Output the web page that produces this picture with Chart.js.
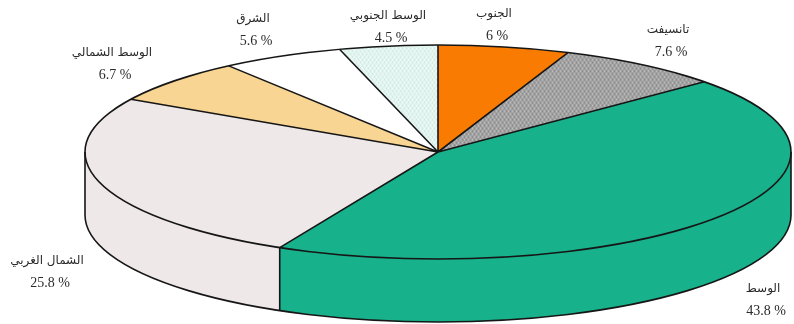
<!DOCTYPE html>
<html lang="ar">

<head>
    <meta charset="UTF-8">
    <title>توزيع حسب الجهات</title>
    <script src="https://cdn.jsdelivr.net/npm/chart.js@4.4.0/dist/chart.umd.min.js"></script>
    <style>
        body {
            margin: 0;
            background: #fff;
        }

        .graph-container {
            position: relative;
            width: 794px;
            height: 324px;
        }
    </style>
</head>

<body>
    <div class="graph-container">
        <canvas id="myChart"></canvas>
    </div>

    <script>
        // clockwise from 12 o'clock
        var regions = ['الجنوب', 'تانسيفت', 'الوسط', 'الشمال الغربي', 'الوسط الشمالي', 'الشرق', 'الوسط الجنوبي'];
        var shares = [6, 7.6, 43.8, 25.8, 6.7, 5.6, 4.5];

        // label anchors (centre of the name line) for each region
        var labelAnchors = [
            [494, 14], [668, 30], [763, 289], [47, 261], [112, 53], [253, 19], [388, 16]
        ];

        var RADIUS = 353;      // horizontal radius of the disc
        var TILT = 0.303;      // vertical squash of the disc
        var TOP_Y = 152;       // centre of the top face
        var DEPTH = 63;        // thickness of the disc

        var ctx = document.getElementById('myChart').getContext('2d');

        function dotted(base, light, dark) {
            var c = document.createElement('canvas');
            c.width = 4;
            c.height = 4;
            var p = c.getContext('2d');
            p.fillStyle = base;
            p.fillRect(0, 0, 4, 4);
            p.fillStyle = light;
            p.fillRect(0, 0, 1, 1);
            p.fillRect(2, 2, 1, 1);
            p.fillStyle = dark;
            p.fillRect(2, 0, 1, 1);
            p.fillRect(0, 2, 1, 1);
            return ctx.createPattern(c, 'repeat');
        }

        var sliceColors = [
            '#f97b02',
            dotted('#a2a2a2', '#c2c2c2', '#888888'),
            '#17b18b',
            '#efe8e8',
            '#f9d593',
            '#ffffff',
            dotted('#e2f4ef', '#f3fbf8', '#cde8df')
        ];

        function pt(cx, cy, a) {
            return [cx + RADIUS * Math.cos(a), cy + RADIUS * TILT * Math.sin(a)];
        }

        // front wall of the disc, only the part facing the viewer (0..PI)
        function drawSides(c, meta) {
            var cx = meta.data[0].x;
            meta.data.forEach(function (el) {
                var a1 = Math.max(el.startAngle, 0);
                var a2 = Math.min(el.endAngle, Math.PI);
                if (a2 <= a1) return;
                var rY = RADIUS * TILT;
                var b = pt(cx, TOP_Y + DEPTH, a2);
                c.beginPath();
                c.ellipse(cx, TOP_Y, RADIUS, rY, 0, a1, a2);
                c.lineTo(b[0], b[1]);
                c.ellipse(cx, TOP_Y + DEPTH, RADIUS, rY, 0, a2, a1, true);
                c.closePath();
                c.fillStyle = el.options.backgroundColor;
                c.fill();
            });
        }

        function drawOutlines(c, meta) {
            var cx = meta.data[0].x;
            var rY = RADIUS * TILT;
            c.save();
            c.strokeStyle = '#161616';
            c.lineWidth = 1.6;
            c.lineJoin = 'round';

            c.beginPath();
            c.ellipse(cx, TOP_Y, RADIUS, rY, 0, 0, Math.PI * 2);
            c.stroke();

            c.beginPath();
            c.ellipse(cx, TOP_Y + DEPTH, RADIUS, rY, 0, 0, Math.PI);
            c.stroke();

            c.beginPath();
            meta.data.forEach(function (el) {
                var p = pt(cx, TOP_Y, el.startAngle);
                c.moveTo(cx, TOP_Y);
                c.lineTo(p[0], p[1]);
                var a = el.startAngle;
                if (a > 0 && a < Math.PI) {
                    c.moveTo(p[0], p[1]);
                    c.lineTo(p[0], p[1] + DEPTH);
                }
            });
            // left and right silhouette
            c.moveTo(cx + RADIUS, TOP_Y);
            c.lineTo(cx + RADIUS, TOP_Y + DEPTH);
            c.moveTo(cx - RADIUS, TOP_Y);
            c.lineTo(cx - RADIUS, TOP_Y + DEPTH);
            c.stroke();
            c.restore();
        }

        function drawLabels(c) {
            c.save();
            c.fillStyle = '#2b2b2b';
            c.textAlign = 'center';
            c.textBaseline = 'middle';
            regions.forEach(function (name, i) {
                var x = labelAnchors[i][0];
                var y = labelAnchors[i][1];
                c.direction = 'rtl';
                c.font = '12px "DejaVu Sans"';
                c.fillText(name, x, y);
                c.direction = 'ltr';
                c.font = '14px "Liberation Serif"';
                c.fillText(String(shares[i]) + ' %', x + 3, y + 22);
            });
            c.restore();
        }

        var pie3d = {
            id: 'pie3d',
            beforeDatasetsDraw: function (chart) {
                var c = chart.ctx;
                var meta = chart.getDatasetMeta(0);
                drawSides(c, meta);
                // squash the library's pie into the tilted top face
                var cy = meta.data[0].y;
                c.save();
                c.translate(0, TOP_Y);
                c.scale(1, TILT);
                c.translate(0, -cy);
            },
            afterDatasetsDraw: function (chart) {
                var c = chart.ctx;
                c.restore();
                drawOutlines(c, chart.getDatasetMeta(0));
                drawLabels(c);
            }
        };

        var chart = new Chart(ctx, {
            type: 'pie',
            data: {
                labels: regions,
                datasets: [{
                    data: shares,
                    backgroundColor: sliceColors,
                    borderWidth: 0,
                    clip: false
                }]
            },
            options: {
                responsive: true,
                maintainAspectRatio: false,
                animation: false,
                events: [],
                radius: RADIUS,
                layout: {
                    padding: { left: 82, right: 0, top: 0, bottom: 0 }
                },
                plugins: {
                    legend: { display: false },
                    tooltip: { enabled: false }
                }
            },
            plugins: [pie3d]
        });
    </script>
</body>

</html>
